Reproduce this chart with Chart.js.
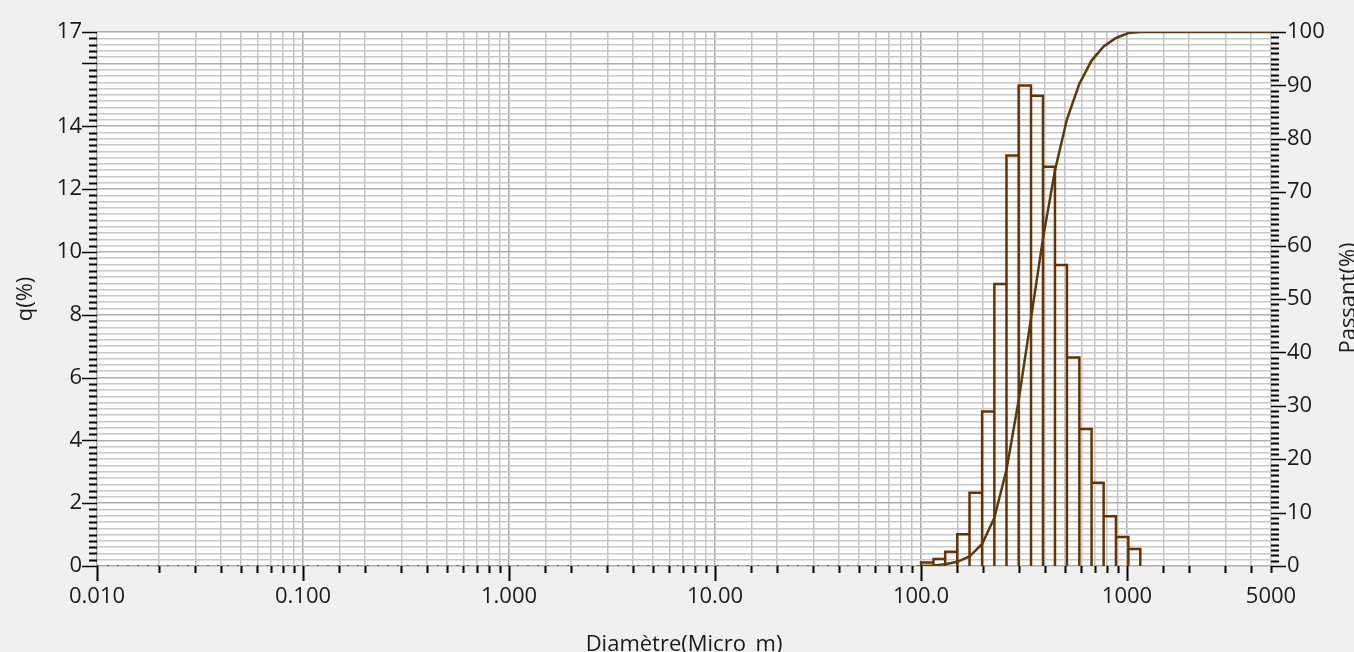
<!DOCTYPE html>
<html>
<head>
<meta charset="utf-8">
<script src="https://cdn.jsdelivr.net/npm/chart.js@4.4.1/dist/chart.umd.min.js"></script>
<style>
  html, body { margin: 0; padding: 0; background: #f0f0f0; }
  #wrap { width: 1354px; height: 652px; }
</style>
</head>
<body>
<div id="wrap"><canvas id="psd"></canvas></div>
<script>
// class edges (micro m) and q(%) per class
const binEdges = [100, 115, 131, 150, 172, 198, 227, 260, 298, 342, 391, 447, 511, 587, 673, 770, 884, 1015, 1160];
const qValues = [0.11, 0.22, 0.45, 1.01, 2.33, 4.92, 8.98, 13.07, 15.30, 14.97, 12.71, 9.58, 6.64, 4.36, 2.65, 1.58, 0.92, 0.54];
// passing (%) at each class edge
const passant = [0, 0.11, 0.33, 0.78, 1.79, 4.12, 9.04, 18.02, 31.09, 46.39, 61.36, 74.07, 83.65, 90.29, 94.65, 97.30, 98.88, 99.80, 100];

const xMin = 0.01, xMax = 5000;
const xTickValues = [0.01, 0.1, 1, 10, 100, 1000, 5000];
const xTickLabels = ['0.010', '0.100', '1.000', '10.00', '100.0', '1000', '5000'];
const qLabelTicks = [0, 2, 4, 6, 8, 10, 12, 14, 17];
const qMajorTicks = [0, 2, 4, 6, 8, 10, 12, 14, 16, 17];
const passantLabelTicks = [0, 10, 20, 30, 40, 50, 60, 70, 80, 90, 100];

const FONT = '"Open Sans", "Noto Sans", sans-serif';
const near = (a, b) => Math.abs(a - b) < 1e-6 * Math.max(1, Math.abs(b));

// histogram outline: each class drawn as an open box
const histPts = [];
qValues.forEach((q, i) => {
  histPts.push({ x: binEdges[i], y: 0 }, { x: binEdges[i], y: q },
               { x: binEdges[i + 1], y: q }, { x: binEdges[i + 1], y: 0 });
});

const cumPts = [{ x: xMin, y: 0 }]
  .concat(binEdges.map((d, i) => ({ x: d, y: passant[i] })))
  .concat([{ x: xMax, y: 100 }]);

const decor = {
  id: 'decor',
  beforeDraw(chart) {
    const { ctx, chartArea: a } = chart;
    ctx.save();
    ctx.fillStyle = '#ffffff';
    ctx.fillRect(a.left, a.top, a.right - a.left, a.bottom - a.top);
    ctx.restore();
  },
  afterDraw(chart) {
    const { ctx, chartArea: a, scales } = chart;
    ctx.save();
    ctx.strokeStyle = '#000';
    // left ticks
    scales.y.ticks.forEach(t => {
      const py = Math.round(scales.y.getPixelForValue(t.value)) + 0.5;
      const major = qMajorTicks.some(v => near(t.value, v));
      ctx.lineWidth = major ? 1.5 : 2;
      ctx.beginPath();
      ctx.moveTo(a.left - (major ? 15 : 8), py);
      ctx.lineTo(a.left, py);
      ctx.stroke();
    });
    // right ticks
    scales.y1.ticks.forEach(t => {
      const py = Math.round(scales.y1.getPixelForValue(t.value)) + 0.5;
      const major = passantLabelTicks.some(v => near(t.value, v));
      ctx.lineWidth = major ? 1.5 : 2;
      ctx.beginPath();
      ctx.moveTo(a.right, py);
      ctx.lineTo(a.right + (major ? 15 : 8), py);
      ctx.stroke();
    });
    // bottom ticks
    scales.x.ticks.forEach(t => {
      const px = Math.round(scales.x.getPixelForValue(t.value)) + 0.5;
      const lg = Math.log10(t.value);
      const major = Math.abs(lg - Math.round(lg)) < 1e-6;
      ctx.lineWidth = 2;
      ctx.beginPath();
      ctx.moveTo(px, a.bottom);
      ctx.lineTo(px, a.bottom + (major ? 15 : 7));
      ctx.stroke();
    });
    // axis titles
    ctx.fillStyle = '#1a1a1a';
    ctx.font = '22px ' + FONT;
    ctx.textAlign = 'center';
    ctx.textBaseline = 'alphabetic';
    ctx.save();
    ctx.translate(32, 299);
    ctx.rotate(-Math.PI / 2);
    ctx.fillText('q(%)', 0, 0);
    ctx.restore();
    ctx.save();
    ctx.translate(1355, 298);
    ctx.rotate(-Math.PI / 2);
    ctx.fillText('Passant(%)', 0, 0);
    ctx.restore();
    ctx.fillText('Diamètre(Micro_m)', 684, 651);
    ctx.restore();
  }
};

new Chart(document.getElementById('psd'), {
  type: 'line',
  data: {
    datasets: [
      {
        label: 'q(%)',
        data: histPts,
        yAxisID: 'y',
        borderColor: '#663300',
        borderWidth: 2.5,
        pointRadius: 0,
        fill: false,
        tension: 0
      },
      {
        label: 'Passant(%)',
        data: cumPts,
        yAxisID: 'y1',
        borderColor: '#5c3a10',
        borderWidth: 2.5,
        pointRadius: 0,
        fill: false,
        tension: 0,
        segment: {
          borderDash: c => (c.p1.parsed.x <= 100 ? [2, 8] : undefined),
          borderWidth: c => (c.p1.parsed.x <= 100 ? 1.5 : 2.5)
        }
      }
    ]
  },
  options: {
    responsive: true,
    maintainAspectRatio: false,
    animation: false,
    layout: { padding: { top: 32, left: 0, right: 0, bottom: 0 } },
    plugins: { legend: { display: false }, tooltip: { enabled: false } },
    scales: {
      x: {
        type: 'logarithmic',
        position: 'bottom',
        min: xMin,
        max: xMax,
        afterFit: s => { s.height = 86; },
        border: { display: false },
        grid: {
          drawTicks: false,
          lineWidth: 1.5,
          color: c => {
            const lg = Math.log10(c.tick.value);
            return Math.abs(lg - Math.round(lg)) < 1e-6 ? '#a8a8a8' : '#c4c4c4';
          }
        },
        ticks: {
          autoSkip: false,
          maxRotation: 0,
          padding: 18,
          color: '#1a1a1a',
          font: { family: FONT, size: 22 },
          callback: v => {
            const i = xTickValues.findIndex(t => near(v, t));
            return i >= 0 ? xTickLabels[i] : '';
          }
        }
      },
      y: {
        type: 'linear',
        position: 'left',
        min: 0,
        max: 17,
        afterBuildTicks: s => {
          const t = [];
          for (let i = 0; i <= 85; i++) t.push({ value: Math.round(i * 2) / 10 });
          s.ticks = t;
        },
        afterFit: s => { s.width = 97; },
        border: { display: false },
        grid: {
          drawTicks: false,
          lineWidth: 1.5,
          color: c => (qMajorTicks.some(v => near(c.tick.value, v)) ? '#adadad' : '#c8c8c8')
        },
        ticks: {
          autoSkip: false,
          padding: 15,
          color: '#1a1a1a',
          font: { family: FONT, size: 22 },
          callback: v => (qLabelTicks.some(t => near(v, t)) ? String(Math.round(v)) : '')
        }
      },
      y1: {
        type: 'linear',
        position: 'right',
        min: 0,
        max: 100,
        afterBuildTicks: s => {
          const t = [];
          for (let i = 0; i <= 100; i++) t.push({ value: i });
          s.ticks = t;
        },
        afterFit: s => { s.width = 83; },
        border: { display: false },
        grid: { display: false, drawTicks: false },
        ticks: {
          autoSkip: false,
          padding: 16,
          color: '#1a1a1a',
          font: { family: FONT, size: 22 },
          callback: v => (passantLabelTicks.some(t => near(v, t)) ? String(v) : '')
        }
      }
    }
  },
  plugins: [decor]
});
</script>
</body>
</html>
